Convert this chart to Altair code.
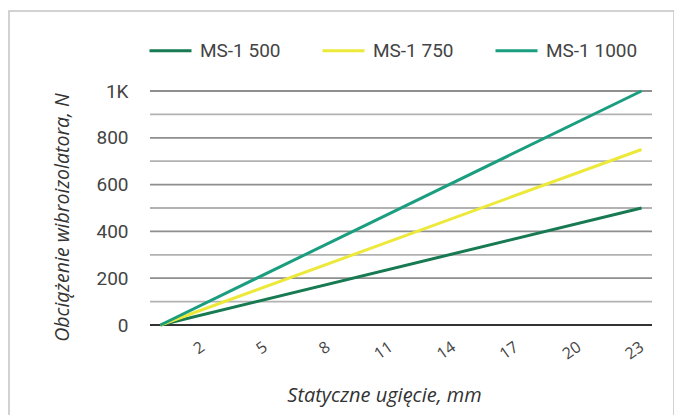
import altair as alt
import pandas as pd

# --- data ---
deflection = [0, 23]
series = ["MS-1 500", "MS-1 750", "MS-1 1000"]
ms500 = [0, 500]
ms750 = [0, 750]
ms1000 = [0, 1000]
x_ticks = [2, 5, 8, 11, 14, 17, 20, 23]
y_grid = [0, 100, 200, 300, 400, 500, 600, 700, 800, 900, 1000]
y_labels = [0, 200, 400, 600, 800, 1000]
colors = ["#177a52", "#ece93a", "#1b9e7f"]

rows = []
for name, vals in zip(series, [ms500, ms750, ms1000]):
    for xv, yv in zip(deflection, vals):
        rows.append({"x": xv, "y": yv, "series": name})
df = pd.DataFrame(rows)
grid_df = pd.DataFrame({"y": [v for v in y_grid if v != 0]})

x_enc = alt.X(
    "x:Q",
    scale=alt.Scale(domain=[-0.5, 23.5], nice=False, zero=False),
    axis=alt.Axis(
        values=x_ticks, grid=False, ticks=False, domain=False,
        labelAngle=-35, labelAlign="right", labelBaseline="middle",
        labelPadding=20, labelFont="Open Sans", labelFontSize=16,
        labelColor="#444444",
        title="Statyczne ugięcie, mm", titleFont="Open Sans",
        titleFontStyle="italic", titleFontWeight="normal", titleFontSize=20,
        titleColor="#333333", titleX=234, titleY=76, titleAlign="center",
        titleBaseline="alphabetic",
    ),
)

y_enc = alt.Y(
    "y:Q",
    scale=alt.Scale(domain=[0, 1000], nice=False),
    axis=alt.Axis(
        values=y_labels, ticks=False, domain=False, grid=False,
        labelOverlap=False,
        labelExpr="datum.value === 1000 ? '1K' : datum.label",
        labelFont="Roboto", labelFontSize=19, labelColor="#444444",
        labelPadding=22,
        title="Obciążenie wibroizolatora, N", titleFont="Open Sans",
        titleFontStyle="italic", titleFontWeight="normal", titleFontSize=19.5,
        titleColor="#333333", titleX=-82, titleY=126, titleAlign="center",
        titleBaseline="alphabetic", titleAngle=270,
    ),
)

frame = alt.Chart(pd.DataFrame({"a": [0]})).mark_rect(
    filled=False, stroke="#c4c4c4", strokeWidth=1.5
).encode(
    x=alt.value(-141), x2=alt.value(524), y=alt.value(-80), y2=alt.value(420)
)

grid = alt.Chart(grid_df).mark_rule(strokeWidth=1.8).encode(
    y=alt.Y("y:Q"),
    color=alt.condition("datum.y % 200 === 0", alt.value("#8e8e8e"), alt.value("#b2b2b2")),
)

zero = alt.Chart(pd.DataFrame({"y": [0]})).mark_rule(
    color="#333333", strokeWidth=2
).encode(y="y:Q")

lines = alt.Chart(df).mark_line(strokeWidth=3).encode(
    x=x_enc,
    y=y_enc,
    color=alt.Color(
        "series:N",
        scale=alt.Scale(domain=series, range=colors),
        legend=alt.Legend(
            orient="none", legendX=-2, legendY=-63, direction="horizontal",
            symbolType="stroke", symbolSize=1764, symbolStrokeWidth=3,
            labelFont="Roboto", labelFontSize=19, labelColor="#444444",
            labelOffset=7, columnPadding=35, title=None,
        ),
    ),
)

chart = alt.layer(frame, grid, zero, lines).resolve_scale(
    color="independent"
).properties(
    width=502,
    height=234,
    autosize=alt.AutoSizeParams(type="none"),
    padding={"left": 142, "top": 83, "right": 22, "bottom": 90},
).configure_view(stroke=None)

chart.save("out.html", embed_options={"renderer": "svg", "actions": False})
